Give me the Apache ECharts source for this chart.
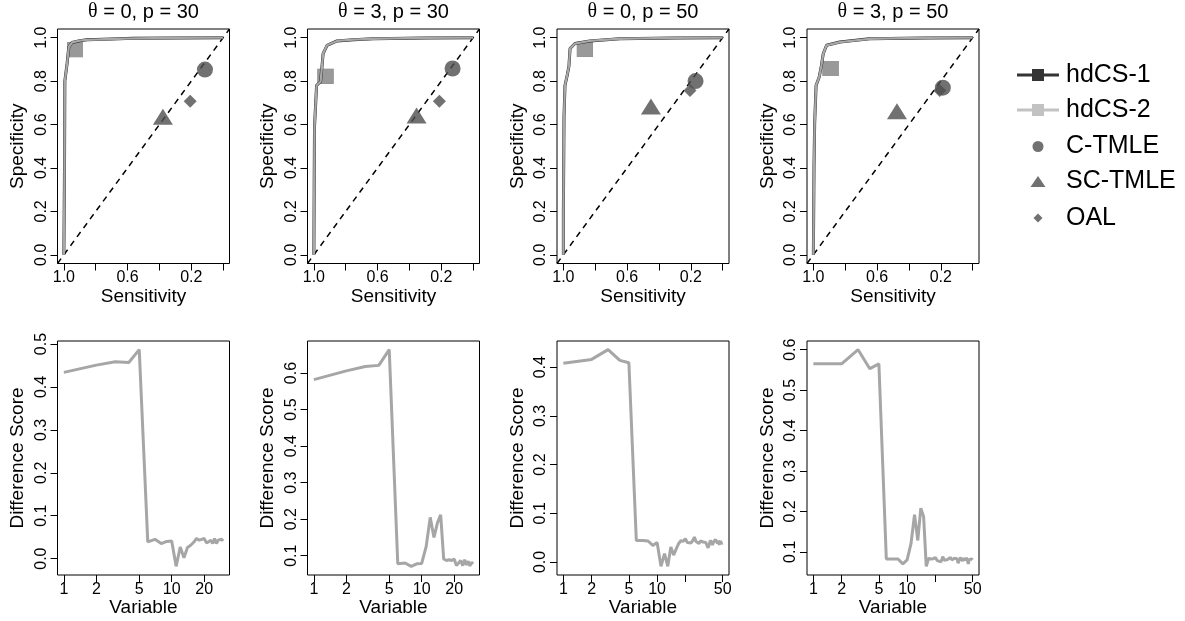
<!DOCTYPE html>
<html><head><meta charset="utf-8">
<script src="https://cdn.jsdelivr.net/npm/echarts@6/dist/echarts.min.js"></script>
<style>html,body{margin:0;padding:0;background:#fff}#c{width:1185px;height:621px}</style>
</head><body><div id="c"></div>
<script>
// ---------- data ----------
const panelTitles = ['0, p = 30', '3, p = 30', '0, p = 50', '3, p = 50'];
const seriesNames = ['hdCS-1', 'hdCS-2', 'C-TMLE', 'SC-TMLE', 'OAL'];

// ROC curves (sensitivity, specificity) of hdCS-1 / hdCS-2
const roc1Sens = [1.000, 0.996, 0.994, 0.980, 0.969, 0.948, 0.900, 0.855, 0.700, 0.565, 0.300, 0.000];
const roc1Spec = [0.000, 0.400, 0.800, 0.880, 0.957, 0.978, 0.986, 0.990, 0.994, 0.997, 0.999, 1.000];
const roc2Sens = [1.000, 0.998, 0.996, 0.983, 0.958, 0.950, 0.942, 0.917, 0.855, 0.750, 0.627, 0.300, 0.000];
const roc2Spec = [0.000, 0.300, 0.590, 0.780, 0.797, 0.860, 0.927, 0.965, 0.985, 0.991, 0.995, 0.999, 1.000];
const roc3Sens = [1.000, 1.000, 0.996, 0.990, 0.975, 0.965, 0.958, 0.927, 0.833, 0.646, 0.300, 0.000];
const roc3Spec = [0.000, 0.190, 0.635, 0.780, 0.830, 0.870, 0.950, 0.973, 0.985, 0.995, 0.999, 1.000];
const roc4Sens = [1.000, 0.996, 0.992, 0.983, 0.963, 0.950, 0.938, 0.917, 0.834, 0.647, 0.300, 0.000];
const roc4Spec = [0.000, 0.406, 0.605, 0.780, 0.820, 0.870, 0.926, 0.965, 0.980, 0.995, 0.999, 1.000];

// single points [sensitivity, specificity] per panel
const hdcsPoint  = [[0.930, 0.945], [0.927, 0.822], [0.865, 0.946], [0.892, 0.858]];
const ctmlePoint = [[0.114, 0.853], [0.129, 0.858], [0.170, 0.800], [0.187, 0.770]];
const sctmlePoint= [[0.378, 0.636], [0.355, 0.642], [0.450, 0.683], [0.475, 0.661]];
const oalPoint   = [[0.207, 0.707], [0.212, 0.707], [0.205, 0.757], [0.207, 0.757]];

// difference scores by variable (1..p)
const diffT0P30 = [0.434, 0.451, 0.459, 0.457, 0.487, 0.039, 0.045, 0.035, 0.040, 0.041,
  -0.018, 0.027, 0.002, 0.026, 0.031, 0.038, 0.047, 0.043, 0.045, 0.047,
  0.037, 0.039, 0.043, 0.035, 0.047, 0.035, 0.043, 0.039, 0.045, 0.041];
const diffT3P30 = [0.582, 0.606, 0.618, 0.621, 0.664, 0.078, 0.080, 0.071, 0.078, 0.079,
  0.125, 0.205, 0.150, 0.190, 0.212, 0.091, 0.087, 0.089, 0.087, 0.091,
  0.073, 0.080, 0.087, 0.073, 0.089, 0.075, 0.085, 0.072, 0.082, 0.078];
const diffT0P50 = [0.408, 0.416, 0.436, 0.414, 0.409, 0.044, 0.044, 0.043, 0.034, 0.040,
  -0.009, 0.017, -0.009, 0.031, 0.014, 0.027, 0.038, 0.044, 0.042, 0.048,
  0.040, 0.038, 0.039, 0.044, 0.051, 0.042, 0.046, 0.038, 0.043, 0.044,
  0.041, 0.045, 0.040, 0.043, 0.029, 0.036, 0.044, 0.048, 0.035, 0.041,
  0.037, 0.046, 0.042, 0.038, 0.044, 0.035, 0.043, 0.040, 0.038, 0.039];
const diffT3P50 = [0.565, 0.565, 0.600, 0.553, 0.565, 0.082, 0.082, 0.082, 0.070, 0.080,
  0.120, 0.192, 0.128, 0.208, 0.187, 0.064, 0.084, 0.082, 0.083, 0.086,
  0.078, 0.080, 0.075, 0.088, 0.079, 0.083, 0.081, 0.078, 0.086, 0.080,
  0.077, 0.084, 0.081, 0.083, 0.072, 0.079, 0.086, 0.082, 0.077, 0.084,
  0.080, 0.079, 0.085, 0.078, 0.070, 0.081, 0.083, 0.079, 0.082, 0.080];

// tick labels
const rocTicks = [0, 0.2, 0.4, 0.6, 0.8, 1.0];
const sensLabels = [1.0, 0.6, 0.2];
const varTicksP30 = [1, 2, 5, 10, 20];
const varLabelsP30 = [1, 2, 5, 10, 20];
const varTicksP50 = [1, 2, 5, 10, 20, 50];
const varLabelsP50 = [1, 2, 5, 10, 50];
const diffTicks1 = [0.0, 0.1, 0.2, 0.3, 0.4, 0.5];
const diffTicks2 = [0.1, 0.2, 0.3, 0.4, 0.5, 0.6];
const diffTicks3 = [0.0, 0.1, 0.2, 0.3, 0.4];
const diffTicks4 = [0.1, 0.2, 0.3, 0.4, 0.5, 0.6];

// ---------- build ----------
const FONT = 'Liberation Sans';
const rocSens = [roc1Sens, roc2Sens, roc3Sens, roc4Sens];
const rocSpec = [roc1Spec, roc2Spec, roc3Spec, roc4Spec];
const diffs = [diffT0P30, diffT3P30, diffT0P50, diffT3P50];
const varTicks = [varTicksP30, varTicksP30, varTicksP50, varTicksP50];
const varLabels = [varLabelsP30, varLabelsP30, varLabelsP50, varLabelsP50];
const diffTicks = [diffTicks1, diffTicks2, diffTicks3, diffTicks4];

const colLeft = [57.5, 307.5, 557, 807];
const W = 172;
const grids = [], xAxes = [], yAxes = [], series = [], titles = [];
const lg10 = Math.log10;

function padRange(lo, hi) { const d = (hi - lo) * 0.04; return [lo - d, hi + d]; }

const tickStyle = { show: true, length: 7, lineStyle: { color: '#000', width: 1 } };
const labelBase = { fontSize: 16, color: '#000', fontFamily: FONT };
const nameBase = { fontSize: 19, color: '#000', fontFamily: FONT };

for (let k = 0; k < 4; k++) {
  titles.push({
    text: '{th|θ} = ' + panelTitles[k],
    left: colLeft[k] + W / 2, top: 2, padding: 0, textAlign: 'center',
    textStyle: { fontSize: 20, fontWeight: 'normal', color: '#000', fontFamily: FONT,
      rich: { th: { fontSize: 20, fontFamily: 'Liberation Serif', color: '#000' } } }
  });
  grids.push({ left: colLeft[k], top: 29, width: W, height: 234.5, show: true, borderColor: '#000', borderWidth: 1, backgroundColor: 'transparent' });
  const [rlo, rhi] = padRange(0, 1);
  xAxes.push({ gridIndex: k, type: 'value', inverse: true, min: rlo, max: rhi,
    axisLine: { show: false, onZero: false }, splitLine: { show: false },
    axisTick: Object.assign({ customValues: rocTicks }, tickStyle),
    axisLabel: Object.assign({ customValues: sensLabels, margin: 6.5, formatter: v => v.toFixed(1) }, labelBase),
    name: 'Sensitivity', nameLocation: 'middle', nameGap: 20, nameTextStyle: nameBase });
  yAxes.push({ gridIndex: k, type: 'value', min: rlo, max: rhi,
    axisLine: { show: false, onZero: false }, splitLine: { show: false },
    axisTick: Object.assign({ customValues: rocTicks }, tickStyle),
    axisLabel: Object.assign({ customValues: rocTicks, rotate: 90, margin: 8, formatter: v => v.toFixed(1) }, labelBase),
    name: 'Specificity', nameLocation: 'middle', nameRotate: 90, nameGap: 30, nameTextStyle: nameBase });

  const curve = rocSens[k].map((s, i) => [s, rocSpec[k][i]]);
  series.push({ type: 'line', xAxisIndex: k, yAxisIndex: k, silent: true, symbol: 'none', z: 1,
    data: [[rhi, rlo], [rlo, rhi]], lineStyle: { color: '#000', width: 1.5, type: [6, 5] } });
  series.push({ name: 'hdCS-1', type: 'scatter', xAxisIndex: k, yAxisIndex: k, symbol: 'rect', symbolSize: [16, 15], z: 2,
    data: [hdcsPoint[k]], itemStyle: { color: '#000' } });
  series.push({ name: 'hdCS-2', type: 'scatter', xAxisIndex: k, yAxisIndex: k, symbol: 'rect', symbolSize: [16, 15], z: 3,
    data: [hdcsPoint[k]], itemStyle: { color: '#b3b3b3' } });
  series.push({ name: 'hdCS-1', type: 'line', xAxisIndex: k, yAxisIndex: k, symbol: 'none', z: 4,
    data: curve, lineStyle: { color: '#222', width: 3 }, itemStyle: { color: '#000' } });
  series.push({ name: 'hdCS-2', type: 'line', xAxisIndex: k, yAxisIndex: k, symbol: 'none', z: 5,
    data: curve, lineStyle: { color: '#a8a8a8', width: 2.3 }, itemStyle: { color: '#b3b3b3' } });
  series.push({ name: 'C-TMLE', type: 'scatter', xAxisIndex: k, yAxisIndex: k, symbol: 'circle', symbolSize: 16, z: 6,
    data: [ctmlePoint[k]], itemStyle: { color: '#4d4d4d' } });
  series.push({ name: 'SC-TMLE', type: 'scatter', xAxisIndex: k, yAxisIndex: k, symbol: 'triangle', symbolSize: [20, 16], z: 7,
    data: [sctmlePoint[k]], itemStyle: { color: '#4d4d4d' } });
  series.push({ name: 'OAL', type: 'scatter', xAxisIndex: k, yAxisIndex: k, symbol: 'diamond', symbolSize: [13, 13], z: 8,
    data: [oalPoint[k]], itemStyle: { color: '#4d4d4d' } });
}

for (let k = 0; k < 4; k++) {
  const gi = 4 + k;
  const d = diffs[k];
  grids.push({ left: colLeft[k], top: 341, width: W, height: 234, show: true, borderColor: '#000', borderWidth: 1, backgroundColor: 'transparent' });
  const [xlo, xhi] = padRange(0, lg10(d.length));
  const [ylo, yhi] = padRange(Math.min(...d), Math.max(...d));
  xAxes.push({ gridIndex: gi, type: 'value', min: xlo, max: xhi,
    axisLine: { show: false, onZero: false }, splitLine: { show: false },
    axisTick: Object.assign({ customValues: varTicks[k].map(lg10) }, tickStyle),
    axisLabel: Object.assign({ customValues: varLabels[k].map(lg10), margin: 6.5, formatter: v => String(Math.round(Math.pow(10, v))) }, labelBase),
    name: 'Variable', nameLocation: 'middle', nameGap: 21, nameTextStyle: nameBase });
  yAxes.push({ gridIndex: gi, type: 'value', min: ylo, max: yhi,
    axisLine: { show: false, onZero: false }, splitLine: { show: false },
    axisTick: Object.assign({ customValues: diffTicks[k] }, tickStyle),
    axisLabel: Object.assign({ customValues: diffTicks[k], rotate: 90, margin: 8, formatter: v => v.toFixed(1) }, labelBase),
    name: 'Difference Score', nameLocation: 'middle', nameRotate: 90, nameGap: 30, nameTextStyle: nameBase });
  series.push({ type: 'line', xAxisIndex: gi, yAxisIndex: gi, symbol: 'none', silent: true, z: 4,
    data: d.map((v, i) => [lg10(i + 1), v]), lineStyle: { color: '#a6a6a6', width: 3 } });
}

// legends: every icon path shares the same 42 x 12 box
const BOX = 'M0,0M42,12';
const lineSquare = 'path://' + BOX + 'M0,4.5L15,4.5L15,0L27,0L27,4.5L42,4.5L42,7.5L27,7.5L27,12L15,12L15,7.5L0,7.5Z';
const legendIcons = [
  lineSquare,
  lineSquare,
  'path://' + BOX + 'M15.5,6A5.5,5.5,0,1,0,26.5,6A5.5,5.5,0,1,0,15.5,6Z',
  'path://' + BOX + 'M13.5,11.5L21,0.5L28.5,11.5Z',
  'path://' + BOX + 'M21,1.5L25.5,6L21,10.5L16.5,6Z'
];
const legendY = [75, 110, 146.5, 181.5, 218];
const legends = seriesNames.map((nm, i) => ({
  data: [{ name: nm, icon: legendIcons[i] }],
  left: 1017, top: legendY[i] - 13, padding: 0, orient: 'vertical',
  itemWidth: 42, itemHeight: 12, symbolKeepAspect: true, selectedMode: false,
  textStyle: { fontSize: 25, lineHeight: 26, color: '#000', fontFamily: FONT, padding: [0, 0, 0, 2] }
}));

const chart = echarts.init(document.getElementById('c'), null, { renderer: 'canvas' });
chart.setOption({
  animation: false,
  backgroundColor: '#fff',
  title: titles,
  legend: legends,
  grid: grids,
  xAxis: xAxes,
  yAxis: yAxes,
  series: series
});
</script>
</body></html>
